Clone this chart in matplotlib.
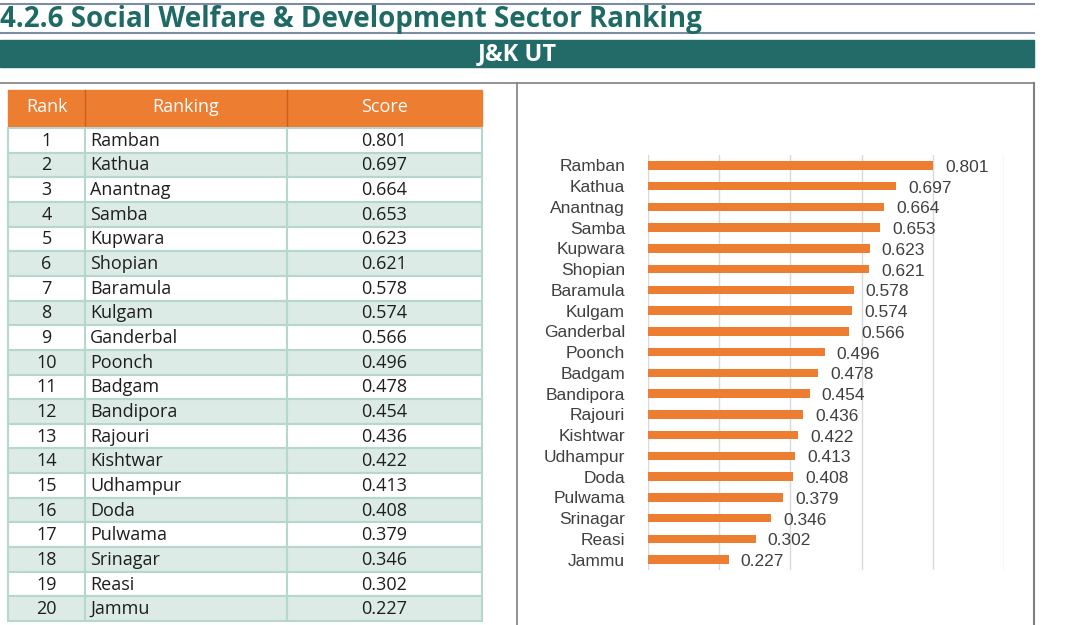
import matplotlib
matplotlib.use("Agg")
import matplotlib.pyplot as plt
from matplotlib.patches import Rectangle

ranks = list(range(1, 21))
districts = ["Ramban", "Kathua", "Anantnag", "Samba", "Kupwara", "Shopian", "Baramula",
             "Kulgam", "Ganderbal", "Poonch", "Badgam", "Bandipora", "Rajouri", "Kishtwar",
             "Udhampur", "Doda", "Pulwama", "Srinagar", "Reasi", "Jammu"]
scores = [0.801, 0.697, 0.664, 0.653, 0.623, 0.621, 0.578, 0.574, 0.566, 0.496,
          0.478, 0.454, 0.436, 0.422, 0.413, 0.408, 0.379, 0.346, 0.302, 0.227]
headers = ["Rank", "Ranking", "Score"]
title = "4.2.6 Social Welfare & Development Sector Ranking"
banner = "J&K UT"
xticks = [0, 0.2, 0.4, 0.6, 0.8, 1.0]

W, H = 1069, 625
TEAL = "#236B68"
TITLE_TEAL = "#1F6A64"
ORANGE = "#ED7D31"
GREEN_ROW = "#DCEBE5"
GREEN_LINE = "#B5D8CB"
TFONT = "Open Sans"

fig = plt.figure(figsize=(W / 100, H / 100), dpi=100)
bg = fig.add_axes([0, 0, 1, 1])
bg.set_xlim(0, W)
bg.set_ylim(H, 0)
bg.axis("off")

# title lines
bg.plot([0, 1034], [4, 4], color="#7D8CA3", lw=1.5)
bg.plot([0, 1034], [33, 33], color="#7D8CA3", lw=1.5)
bg.text(0, 19, title, color=TITLE_TEAL, fontsize=20, fontweight="bold",
        family=TFONT, va="center", ha="left")

# banner
bg.add_patch(Rectangle((0, 40), 1034, 27, color=TEAL))
bg.text(517, 54, banner, color="white", fontsize=17, fontweight="bold",
        family=TFONT, va="center", ha="center")

# panel frames
bg.plot([0, 1034], [83, 83], color="#808080", lw=1.2)
bg.plot([517, 517], [83, H], color="#808080", lw=1.2)
bg.plot([1034, 1034], [83, H], color="#808080", lw=1.5)

# table
col_x = [8, 85, 287, 482]
hdr_top, hdr_bot = 90, 126
bg.add_patch(Rectangle((col_x[0], hdr_top), col_x[-1] - col_x[0], hdr_bot - hdr_top,
                       color=ORANGE))
for cx in col_x[1:-1]:
    bg.plot([cx, cx], [hdr_top, hdr_bot], color="#C9601F", lw=1)
for i, h in enumerate(headers):
    bg.text((col_x[i] + col_x[i + 1]) / 2, (hdr_top + hdr_bot) / 2 - 1, h, color="white",
            fontsize=13, family=TFONT, va="center", ha="center")

row_h = 24.65
y0 = hdr_bot + 2
for r in range(len(ranks)):
    top = y0 + r * row_h
    fc = "white" if r % 2 == 0 else GREEN_ROW
    bg.add_patch(Rectangle((col_x[0], top), col_x[-1] - col_x[0], row_h, facecolor=fc,
                           edgecolor=GREEN_LINE, lw=1.5))
    for cx in col_x[1:-1]:
        bg.plot([cx, cx], [top, top + row_h], color=GREEN_LINE, lw=1.5)
    cy = top + row_h / 2 + 0.5
    bg.text((col_x[0] + col_x[1]) / 2, cy, str(ranks[r]), fontsize=13,
            family=TFONT, color="#1E1E1E", va="center", ha="center")
    bg.text(col_x[1] + 5, cy, districts[r], fontsize=13, family=TFONT,
            color="#1E1E1E", va="center", ha="left")
    bg.text((col_x[2] + col_x[3]) / 2, cy, f"{scores[r]:.3f}", fontsize=13,
            family=TFONT, color="#1E1E1E", va="center", ha="center")

# bar chart
ax_l, ax_r, ax_t, ax_b = 648, 1004, 155, 570
ax = fig.add_axes([ax_l / W, 1 - ax_b / H, (ax_r - ax_l) / W, (ax_b - ax_t) / H])
ypos = list(range(len(districts)))
ax.barh(ypos, scores, height=0.4, color=ORANGE, zorder=3)
ax.set_ylim(len(districts) - 0.5, -0.5)
ax.set_xlim(0, 1.0)
ax.set_xticks(xticks)
ax.grid(axis="x", color="#D9D9D9", lw=1, zorder=0)
ax.tick_params(axis="x", length=0, labelbottom=False)
ax.tick_params(axis="y", length=0, pad=16.5)
ax.set_yticks(ypos)
ax.set_yticklabels(districts, fontsize=12.5, family="Liberation Sans", color="#404040")
for s in ax.spines.values():
    s.set_visible(False)
for y, v in zip(ypos, scores):
    ax.annotate(f"{v:.3f}", (v, y), xytext=(12, -2), textcoords="offset pixels",
                fontsize=12.5, family="Liberation Sans", color="#404040",
                va="center", ha="left")

fig.savefig("out.png", dpi=100)
